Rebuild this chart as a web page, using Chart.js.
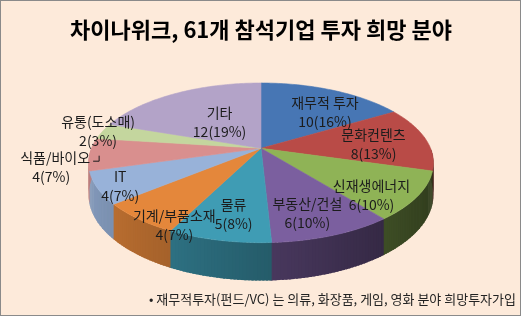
<!DOCTYPE html>
<html>
<head>
<meta charset="utf-8">
<script src="https://cdn.jsdelivr.net/npm/chart.js@4.4.1/dist/chart.umd.min.js"></script>
<style>
  html, body { margin: 0; padding: 0; background: #fdeada; }
  canvas { display: block; }
</style>
</head>
<body>
<canvas id="myChart" width="521" height="316"></canvas>
<script>
// data
var categories = ['재무적 투자', '문화컨텐츠', '신재생에너지', '부동산/건설', '물류', '기계/부품소재', 'IT', '식품/바이오', '유통(도소매)', '기타'];
var companies = [10, 8, 6, 6, 5, 4, 4, 4, 2, 12];
var percents = [16, 13, 10, 10, 8, 7, 7, 7, 3, 19];

var colors = ['#4776b4', '#b94b47', '#8fb356', '#7b5f9f', '#3f9cb4', '#e4873b', '#98b2d9', '#d98f8e', '#c4d69e', '#b3a3c8'];
// how far out each label sits (1 = rim) and a small hand nudge
var labelRadius = [0.66, 0.68, 0.8, 0.8, 0.78, 0.9, 0.95, 1.22, 1.03, 0.45];
var labelNudge = [[14, 4], [0, 3], [-12, 9], [-9, -2], [4, -3], [22, 14], [14, 0], [0, 11], [0, 0], [0, 0]];

var FONT = '"Noto Sans CJK KR", "Noto Sans", sans-serif';

function shade(hex, k) {
  var n = parseInt(hex.slice(1), 16);
  var r = Math.round(((n >> 16) & 255) * k);
  var g = Math.round(((n >> 8) & 255) * k);
  var b = Math.round((n & 255) * k);
  return 'rgb(' + r + ',' + g + ',' + b + ')';
}

var background = {
  id: 'background',
  beforeDraw: function(chart) {
    var c = chart.ctx;
    c.save();
    c.fillStyle = '#fdeada';
    c.fillRect(0, 0, chart.width, chart.height);
    c.restore();
  },
  afterDraw: function(chart) {
    var c = chart.ctx;
    c.save();
    c.strokeStyle = '#8a8a8a';
    c.lineWidth = 1;
    c.strokeRect(0.5, 0.5, chart.width - 1, chart.height - 1);
    c.restore();
  }
};

// draws the pie as a tilted disc with a rim, using the arcs chart.js laid out
var pie3d = {
  id: 'pie3d',
  beforeDatasetsDraw: function(chart) {
    var c = chart.ctx;
    var arcs = chart.getDatasetMeta(0).data;
    var cx = arcs[0].x, cy = arcs[0].y, R = arcs[0].outerRadius;
    var rx = R * 1.92, ry = R * 0.874, p = 0.182, depth = 31;

    function pt(t, f, h) {
      var s = Math.sin(t);
      var w = 1 / (1 - p * f * s);
      return [cx + rx * f * Math.cos(t) * w, cy + ry * f * s * w + (h || 0) * w];
    }

    c.save();

    // rim (front half only)
    arcs.forEach(function(arc, i) {
      var s = Math.max(arc.startAngle, 0);
      var e = Math.min(arc.endAngle, Math.PI);
      if (e <= s) return;
      var step = Math.PI / 180;
      for (var t = s; t < e; t += step) {
        var t2 = Math.min(t + step * 1.6, e + step * 0.6);
        var tm = t + step / 2;
        var a = pt(t, 1), b = pt(t2, 1), bb = pt(t2, 1, depth), aa = pt(t, 1, depth);
        c.beginPath();
        c.moveTo(a[0], a[1]);
        c.lineTo(b[0], b[1]);
        c.lineTo(bb[0], bb[1]);
        c.lineTo(aa[0], aa[1]);
        c.closePath();
        c.fillStyle = shade(colors[i], 0.6 - 0.27 * Math.cos(tm));
        c.fill();
      }
    });

    // top faces
    arcs.forEach(function(arc, i) {
      c.beginPath();
      c.moveTo(cx, cy);
      var n = Math.max(8, Math.ceil((arc.endAngle - arc.startAngle) / (Math.PI / 180)));
      for (var k = 0; k <= n; k++) {
        var q = pt(arc.startAngle + (arc.endAngle - arc.startAngle) * k / n, 1);
        c.lineTo(q[0], q[1]);
      }
      c.closePath();
      c.fillStyle = colors[i];
      c.fill();
      c.strokeStyle = colors[i];
      c.lineWidth = 0.6;
      c.stroke();
    });

    // labels
    c.font = '14px ' + FONT;
    c.fillStyle = '#1c1c1c';
    c.textAlign = 'center';
    c.textBaseline = 'middle';
    arcs.forEach(function(arc, i) {
      var mid = (arc.startAngle + arc.endAngle) / 2;
      var q = pt(mid, labelRadius[i]);
      var x = q[0] + labelNudge[i][0], y = q[1] + labelNudge[i][1];
      var name = categories[i];
      var val = companies[i] + '(' + percents[i] + '%)';
      if (name === '식품/바이오') {
        // outside label with a small leader
        var w = c.measureText(name).width;
        var nx = x + 4;
        c.fillText(name, nx, y - 9.5);
        c.fillText(val, x, y + 9.5);
        c.beginPath();
        c.strokeStyle = '#1c1c1c';
        c.lineWidth = 1;
        c.moveTo(nx + w / 2 + 3, y - 5.5);
        c.lineTo(nx + w / 2 + 9, y - 5.5);
        c.lineTo(nx + w / 2 + 9, y - 11);
        c.stroke();
      } else {
        c.fillText(name, x, y - 9.5);
        c.fillText(val, x, y + 9.5);
      }
    });

    c.restore();
    return false;
  }
};

var ctx = document.getElementById('myChart');

var myChart = new Chart(ctx, {
  type: 'pie',
  data: {
    labels: categories,
    datasets: [{
      data: companies,
      backgroundColor: colors,
      borderWidth: 0
    }]
  },
  options: {
    responsive: false,
    animation: false,
    layout: { padding: { top: 6, left: 6, right: 5, bottom: 4 } },
    plugins: {
      legend: { display: false },
      tooltip: { enabled: false },
      title: {
        display: true,
        text: '차이나위크, 61개 참석기업 투자 희망 분야',
        color: '#000',
        font: { family: FONT, size: 22, weight: 'bold' },
        padding: { top: 10, bottom: 17.6 }
      },
      subtitle: {
        display: true,
        position: 'bottom',
        align: 'end',
        text: '• 재무적투자(펀드/VC) 는 의류, 화장품, 게임, 영화 분야 희망투자가입',
        color: '#222',
        font: { family: FONT, size: 13 },
        padding: { top: 54.8, bottom: 5 }
      }
    }
  },
  plugins: [background, pie3d]
});
</script>
</body>
</html>
